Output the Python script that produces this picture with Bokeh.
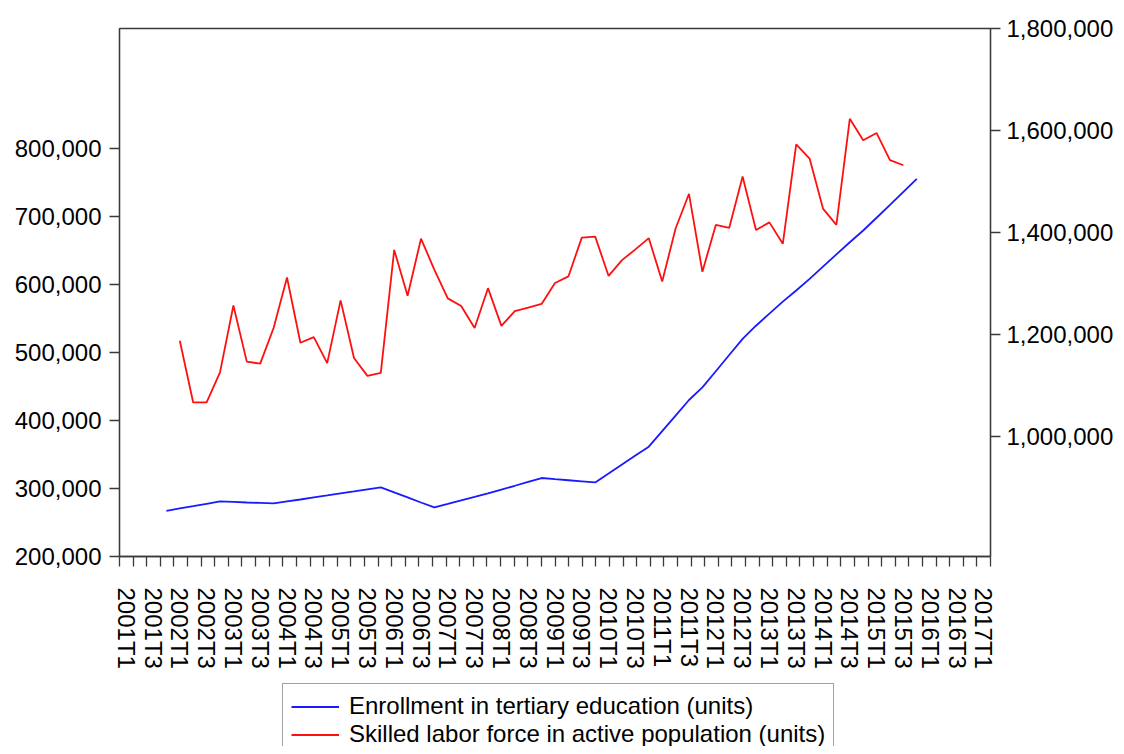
from bokeh.plotting import figure
from bokeh.layouts import column
from bokeh.models import (Range1d, LinearAxis, FixedTicker, NumeralTickFormatter,
                          Legend, LegendItem)
from bokeh.embed import file_html
from bokeh.resources import INLINE

# ---------------- data ----------------
quarters = [f"{y}T{q}" for y in range(2001, 2018) for q in range(1, 5)][:65]

enrollment_start = "2001T4"
enrollment = [267300, 270700, 274100, 277600, 281000, 280300, 279500, 278800, 278100,
              281000, 283900, 286900, 289800, 292800, 295700, 298700, 301600, 294300,
              286900, 279500, 272200, 277300, 282500, 287600, 292800, 298500, 304100,
              309800, 315500, 313800, 312200, 310600, 309000, 322100, 335300, 348500,
              361600, 384500, 407400, 430300, 448900, 472600, 496500, 520200, 539600,
              557400, 575000, 591500, 608500, 626500, 644500, 662400, 679700, 698500,
              717500, 736700, 755700]

skilled_start = "2002T1"
skilled = [1188000, 1067000, 1067000, 1126000, 1257000, 1147000, 1143000, 1213000,
           1312000, 1184000, 1195000, 1144000, 1267000, 1154000, 1119000, 1125000,
           1366000, 1276000, 1388000, 1327000, 1271000, 1256000, 1213000, 1291000,
           1217000, 1246000, 1253000, 1260000, 1301000, 1314000, 1390000, 1392000,
           1315000, 1346000, 1367000, 1389000, 1304000, 1408000, 1476000, 1323000,
           1415000, 1409000, 1510000, 1405000, 1420000, 1378000, 1573000, 1545000,
           1447000, 1415000, 1623000, 1581000, 1595000, 1542000, 1532000]

left_ticks = [200000, 300000, 400000, 500000, 600000, 700000, 800000]
right_ticks = [1000000, 1200000, 1400000, 1600000, 1800000]

label_enroll = "Enrollment in tertiary education (units)"
label_skilled = "Skilled labor force in active population (units)"

# ---------------- styling ----------------
FONT = "Liberation Sans"
AX = "#3a3a3a"
BLUE = "#1a1aff"
RED = "#ff1010"
LW = 1.8

x_enroll = [quarters.index(enrollment_start) + k for k in range(len(enrollment))]
x_skilled = [quarters.index(skilled_start) + k for k in range(len(skilled))]

W = 1116
H1 = 680
p = figure(width=W, height=H1, output_backend="svg", toolbar_location=None,
           x_range=Range1d(-0.5, 64.5), y_range=Range1d(200000, 977000),
           min_border_left=119, min_border_right=W - 119 - 873, min_border_top=28,
           min_border_bottom=H1 - 28 - 528)
p.extra_y_ranges = {"right": Range1d(765000, 1800000)}
p.xgrid.grid_line_color = None
p.ygrid.grid_line_color = None
p.outline_line_color = AX
p.outline_line_width = 1.3
p.background_fill_color = "white"
p.border_fill_color = "white"

p.line(x_enroll, enrollment, line_color=BLUE, line_width=LW)
p.line(x_skilled, skilled, line_color=RED, line_width=LW, y_range_name="right")

# x axis
n = len(quarters)
minor_pos = [-0.5 + k * 65.0 / 64.0 for k in range(65)]
major_pos = list(range(0, n, 2))
xa = p.xaxis[0]
xa.ticker = FixedTicker(ticks=major_pos, minor_ticks=minor_pos)
xa.major_label_overrides = {i: quarters[i] for i in major_pos}
xa.major_label_orientation = "vertical"
xa.major_tick_out = 0
xa.major_tick_in = 0
xa.minor_tick_out = 10
xa.minor_tick_in = 0
xa.major_label_standoff = 21
xa.axis_line_color = AX
xa.axis_line_width = 1.3
xa.minor_tick_line_color = AX
xa.minor_tick_line_width = 1.3
xa.major_label_text_font = FONT
xa.major_label_text_font_size = "24px"
xa.major_label_text_color = "black"

# left axis
ya = p.yaxis[0]
ya.ticker = FixedTicker(ticks=left_ticks)
ya.formatter = NumeralTickFormatter(format="0,0")
ya.minor_tick_line_color = None
ya.major_tick_out = 10
ya.major_tick_in = 0
ya.major_label_standoff = 8

# right axis
yr = LinearAxis(y_range_name="right")
yr.ticker = FixedTicker(ticks=right_ticks)
yr.formatter = NumeralTickFormatter(format="0,0")
yr.minor_tick_line_color = None
yr.major_tick_out = 10
yr.major_tick_in = 0
yr.major_label_standoff = 6
p.add_layout(yr, "right")

for ax in [ya, yr]:
    ax.axis_line_color = AX
    ax.axis_line_width = 1.3
    ax.major_tick_line_color = AX
    ax.major_tick_line_width = 1.3
    ax.major_label_text_font = FONT
    ax.major_label_text_font_size = "24px"
    ax.major_label_text_color = "black"

# ---------------- legend strip below ----------------
LH = 66
pl = figure(width=W, height=LH, output_backend="svg", toolbar_location=None,
            x_axis_type=None, y_axis_type=None,
            x_range=Range1d(-0.5, 64.5), y_range=Range1d(0, 1),
            min_border_left=0, min_border_right=0, min_border_top=0,
            min_border_bottom=0)
pl.outline_line_color = None
pl.xgrid.grid_line_color = None
pl.ygrid.grid_line_color = None
pl.background_fill_color = "white"
pl.border_fill_color = "white"
# same series, drawn far outside this strip's y-range; only their legend glyphs show
d1 = pl.line(x_enroll, enrollment, line_color=BLUE, line_width=LW)
d2 = pl.line(x_skilled, skilled, line_color=RED, line_width=LW)

PAD = 8
ROW = 27
legend_top = 687 - H1
legend_h = 2 * ROW + 2 * PAD
legend = Legend(items=[LegendItem(label=label_enroll, renderers=[d1]),
                       LegendItem(label=label_skilled, renderers=[d2])],
                location=(163, LH - legend_top - legend_h), orientation="vertical",
                label_text_font=FONT, label_text_font_size="24px",
                label_text_color="black",
                glyph_width=48, glyph_height=ROW, label_height=ROW,
                label_standoff=10, spacing=0, padding=PAD, margin=0,
                border_line_color="#444444", border_line_width=1.2,
                background_fill_color="white", background_fill_alpha=1.0)
pl.add_layout(legend, "center")

layout = column(p, pl, spacing=0)
open("out.html", "w").write(file_html(layout, INLINE))
